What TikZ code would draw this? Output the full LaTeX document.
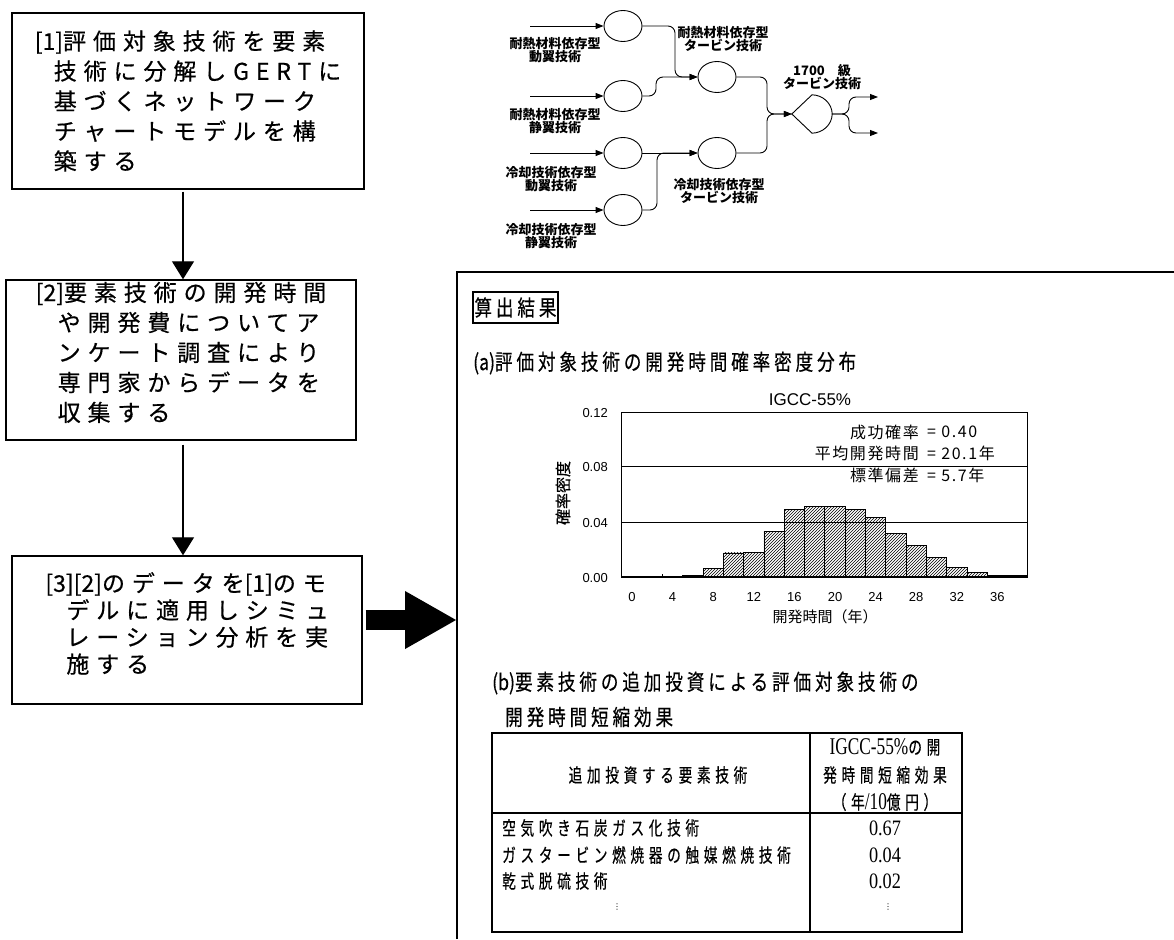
\documentclass[tikz,border=0pt]{standalone}
\usepackage{fontspec}
\usepackage{graphicx}
\setmainfont{Liberation Serif}
\newfontfamily\jp{Noto Sans CJK JP}
\newfontfamily\jpl[FakeBold=0.5]{Noto Sans CJK JP}
\newfontfamily\jpbox[LetterSpace=30,FakeBold=0.5]{Noto Sans CJK JP}
\newfontfamily\jphead[LetterSpace=22,FakeBold=0.5]{Noto Sans CJK JP}
\newfontfamily\jptab[LetterSpace=34,FakeBold=0.4]{Noto Sans CJK JP}
\newfontfamily\jpstat[LetterSpace=10]{Noto Sans CJK JP}
\newfontfamily\hv{Liberation Sans}
\newfontfamily\dv{DejaVu Sans}
\newcommand\narh[1]{\scalebox{0.8}[1]{#1}}
\newcommand\nart[1]{\scalebox{0.72}[1]{#1}}
\newcommand\narn[1]{\scalebox{0.83}[1]{#1}}
\usetikzlibrary{arrows.meta,patterns,shapes.geometric}

\begin{document}
\begin{tikzpicture}[x=1pt,y=-1pt,
  stepbox/.style={draw,line width=1.4pt,inner sep=0pt,align=left,font=\jpbox\fontsize{23pt}{30pt}\selectfont},
  flowarr/.style={line width=1.2pt,-{Triangle[length=18pt,width=22pt]}},
  bigarr/.style={line width=20pt,-{Triangle[length=52pt,width=54pt]}},
  circ/.style={draw,ellipse,line width=0.9pt,minimum width=38pt,minimum height=31pt,inner sep=0pt},
  netarr/.style={line width=0.9pt,-{Triangle[length=8pt,width=6pt]},rounded corners=7pt},
  netlab/.style={align=center,inner sep=0pt,font=\jp\bfseries\fontsize{13pt}{12.5pt}\selectfont},
  headtxt/.style={anchor=west,inner sep=0pt,font=\jphead\fontsize{22pt}{22pt}\selectfont},
  tabtxt/.style={inner sep=0pt,font=\jptab\fontsize{19pt}{19pt}\selectfont},
  tabnum/.style={inner sep=0pt,font=\rmfamily\fontsize{22pt}{22pt}\selectfont},
  tick/.style={inner sep=0pt,font=\hv\fontsize{13pt}{13pt}\selectfont},
  stat/.style={inner sep=0pt,font=\jpstat\fontsize{16pt}{16pt}\selectfont},
  bar/.style={line width=0.8pt,pattern=north east lines}
]
\useasboundingbox (0,0) rectangle (1174,939);

% ---------- left flow ----------
\node[stepbox,minimum width=352pt,minimum height=176pt] (b1) at (188,101)
 {{\jpl [1]}評価対象技術を要素\\\hspace*{19pt}技術に分解しGERTに\\\hspace*{19pt}基づくネットワーク\\\hspace*{19pt}チャートモデルを構\\\hspace*{19pt}築する};
\node[stepbox,minimum width=350pt,minimum height=160pt,text depth=17pt] (b2) at (181,360)
 {{\jpl [2]}要素技術の開発時間\\\hspace*{22pt}や開発費についてア\\\hspace*{22pt}ンケート調査により\\\hspace*{22pt}専門家からデータを\\\hspace*{22pt}収集する};
\node[stepbox,minimum width=350pt,minimum height=148pt,text depth=15pt,font=\jpbox\fontsize{23pt}{27pt}\selectfont] (b3) at (187,630)
 {{\jpl [3][2]}のデータを{\jpl [1]}のモ\\\hspace*{21pt}デルに適用しシミュ\\\hspace*{21pt}レーション分析を実\\\hspace*{21pt}施する};

\coordinate (ax) at (183,0);
\coordinate (outL) at (457,620);
\draw[flowarr,shorten <=2pt] (b1.south -| ax) -- (b2.north -| ax);
\draw[flowarr,shorten <=4pt] (b2.south -| ax) -- (b3.north -| ax);
\draw[bigarr,shorten <=3pt] (b3.east |- outL) -- (outL);

% ---------- right frame ----------
\draw[line width=1.4pt] (457,939) -- (457,272) -- (1174,272);

\node[draw,line width=1.4pt,minimum width=85pt,minimum height=31pt,inner sep=0pt,
      font=\jphead\fontsize{22pt}{22pt}\selectfont] (res) at (515.5,307.5) {\narh{算出結果}};
\node[headtxt] (ha) at (473,363) {\narh{{\jpl (a)}評価対象技術の開発時間確率密度分布}};

% ---------- histogram ----------
\node[inner sep=0pt,font=\hv\fontsize{17pt}{17pt}\selectfont] (ht) at (810,400) {IGCC-55\%};
\draw[line width=0.8pt] (621,412) rectangle (1027,577);
\draw[line width=0.6pt] (621,466) -- (1027,466);
\draw[line width=0.6pt] (621,522) -- (1027,522);
\foreach \c/\v in {6/0.001,8/0.0065,10/0.0175,12/0.018,14/0.033,16/0.049,18/0.051,20/0.051,22/0.049,24/0.043,26/0.032,28/0.023,30/0.0145,32/0.007,34/0.0035,36/0.001,38/0.001}
  \draw[bar] ({632+10.15*(\c-1)},577) rectangle ({632+10.15*(\c+1)},{577-1375*\v});
\draw[line width=0.8pt] (662,577) -- (662,574);
\draw[line width=1.6pt] (621,577) -- (1027,577);
\node[tick,anchor=east] (y12) at (608,413) {0.12};
\node[tick,anchor=east] (y08) at (608,467) {0.08};
\node[tick,anchor=east] (y04) at (608,523) {0.04};
\node[tick,anchor=east] (y00) at (608,578) {0.00};
\foreach \t in {0,4,...,36}
  \node[tick] (xt\t) at ({632+10.15*\t},597) {\t};
\node[inner sep=0pt,rotate=90,font=\jpl\fontsize{16pt}{16pt}\selectfont] (yl) at (563,493) {確率密度};
\node[inner sep=0pt,font=\jp\fontsize{15pt}{15pt}\selectfont] (xl) at (825,617) {開発時間（年）};
\node[stat,anchor=east] (s1) at (919,432) {成功確率};
\node[stat,anchor=east] (s2) at (919,453) {平均開発時間};
\node[stat,anchor=east] (s3) at (919,475) {標準偏差};
\node[stat,anchor=west] (v1) at (927,432) {= 0.40};
\node[stat,anchor=west] (v2) at (927,453) {= 20.1年};
\node[stat,anchor=west] (v3) at (927,475) {= 5.7年};

% ---------- table ----------
\node[headtxt] (hb1) at (492,683) {\narh{{\jpl (b)}要素技術の追加投資による評価対象技術の}};
\node[headtxt] (hb2) at (505,717) {\narh{開発時間短縮効果}};
\draw[line width=1.5pt] (492,733) rectangle (962,932);
\draw[line width=1.5pt] (810,733) -- (810,932);
\draw[line width=1.5pt] (492,813) -- (962,813);
\node[tabtxt] (th1) at (658,775) {\nart{追加投資する要素技術}};
\node[tabtxt] (th2a) at (885,747) {\nart{{\rmfamily\fontsize{24pt}{24pt}\selectfont IGCC-55\%}の開}};
\node[tabtxt] (th2b) at (885,775) {\nart{発時間短縮効果}};
\node[tabtxt] (th2c) at (885,802) {\nart{（年{\rmfamily\fontsize{24pt}{24pt}\selectfont /10}億円）}};
\node[tabtxt,anchor=west] (r1) at (502,828) {\nart{空気吹き石炭ガス化技術}};
\node[tabtxt,anchor=west] (r2) at (502,855) {\nart{ガスタービン燃焼器の触媒燃焼技術}};
\node[tabtxt,anchor=west] (r3) at (502,881) {\nart{乾式脱硫技術}};
\node[tabnum] (n1) at (885,828) {\narn{0.67}};
\node[tabnum] (n2) at (885,855) {\narn{0.04}};
\node[tabnum] (n3) at (885,881) {\narn{0.02}};
\node[inner sep=0pt,font=\dv\fontsize{8pt}{8pt}\selectfont] (d1) at (617,907) {⋮};
\node[inner sep=0pt,font=\dv\fontsize{8pt}{8pt}\selectfont] (d2) at (888,907) {⋮};

% ---------- network ----------
\node[circ] (c1) at (623,26) {};
\node[circ] (c2) at (623,96) {};
\node[circ] (c3) at (623,153) {};
\node[circ] (c4) at (623,210) {};
\node[circ] (c5) at (717,77) {};
\node[circ] (c6) at (717,153) {};
\node[minimum width=40pt,minimum height=38pt,inner sep=0pt] (dd) at (812,114) {};
\draw[line width=0.9pt] (dd.west) -- (dd.north) .. controls (823,95) and (832,103.5) .. (dd.east)
   .. controls (832,124.5) and (823,133) .. (dd.south) -- cycle;
\coordinate (i1) at (530,26);
\coordinate (i2) at (530,96);
\coordinate (i3) at (530,153);
\coordinate (i4) at (530,210);
\coordinate (o1) at (878,97);
\coordinate (o2) at (878,133);
\draw[netarr] (i1) -- (c1);
\draw[netarr] (i2) -- (c2);
\draw[netarr] (i3) -- (c3);
\draw[netarr] (i4) -- (c4);
\draw[netarr] (c1.east) -- (675,26) -- (675,77) -- (c5.west);
\draw[netarr] (c2.east) -- (656,96) -- (656,77) -- (c5.west);
\draw[netarr] (c3) -- (c6);
\draw[netarr] (c4.east) -- (657,210) -- (657,153) -- (c6.west);
\draw[netarr] (c5.east) -- (767,77) -- (767,114) -- (dd.west);
\draw[netarr] (c6.east) -- (767,153) -- (767,114) -- (dd.west);
\draw[netarr] (dd.east) -- (849,114) -- (849,97) -- (o1);
\draw[netarr] (dd.east) -- (849,114) -- (849,133) -- (o2);
\node[netlab] (l1) at (555,50) {耐熱材料依存型\\動翼技術};
\node[netlab] (l2) at (555,121) {耐熱材料依存型\\静翼技術};
\node[netlab] (l3) at (551,179) {冷却技術依存型\\動翼技術};
\node[netlab] (l4) at (551,236) {冷却技術依存型\\静翼技術};
\node[netlab] (l5) at (723,39) {耐熱材料依存型\\タービン技術};
\node[netlab] (l6) at (719,191) {冷却技術依存型\\タービン技術};
\node[netlab] (l7) at (822,77) {1700　級\\タービン技術};
\end{tikzpicture}
\end{document}
